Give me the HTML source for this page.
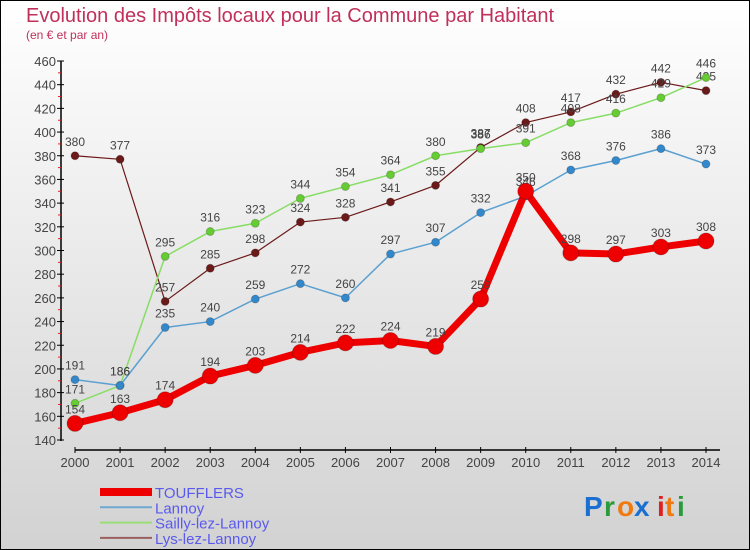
<!DOCTYPE html>
<html><head><meta charset="utf-8"><style>
body{margin:0;}
#wrap{width:750px;height:550px;position:relative;overflow:hidden;}
svg text{font-family:"Liberation Sans",sans-serif;}
</style></head><body>
<div id="wrap">
<svg id="chart" width="750" height="550" xmlns="http://www.w3.org/2000/svg">
<defs>
<linearGradient id="bg" x1="0" y1="0" x2="0" y2="1"><stop offset="0" stop-color="#ffffff"/><stop offset="1" stop-color="#d2d2d2"/></linearGradient>
</defs>
<rect x="0.5" y="0.5" width="749" height="549" fill="url(#bg)" stroke="#000"/>
<text x="26" y="22" font-size="20" fill="#c0305a">Evolution des Impôts locaux pour la Commune par Habitant</text>
<text x="26" y="39" font-size="12" fill="#c0305a">(en € et par an)</text>
<g id="axes"></g>
<g id="series"></g>
<g id="legend"></g>
<g font-size="28" font-weight="bold">
<text x="584" y="516" fill="#1a6fd0">P</text><text x="604" y="516" fill="#2a9a3a">r</text><text x="617" y="516" fill="#f07a10">o</text><text x="634" y="516" fill="#1a6fd0">x</text><text x="657" y="516" fill="#e02020">i</text><text x="665" y="516" fill="#f07a10">t</text><text x="677" y="516" fill="#2a9a3a">i</text>
</g>
</svg>
</div>
<script>
const years=[2000,2001,2002,2003,2004,2005,2006,2007,2008,2009,2010,2011,2012,2013,2014];
const touffler=[154,163,174,194,203,214,222,224,219,259,350,298,297,303,308];
const lannoy=[191,186,235,240,259,272,260,297,307,332,346,368,376,386,373];
const sailly=[171,186,295,316,323,344,354,364,380,386,391,408,416,429,446];
const lys=[380,377,257,285,298,324,328,341,355,387,408,417,432,442,435];
const yTicks=[140,160,180,200,220,240,260,280,300,320,340,360,380,400,420,440,460];
const seriesNames=["TOUFFLERS","Lannoy","Sailly-lez-Lannoy","Lys-lez-Lannoy"];
const NS="http://www.w3.org/2000/svg";
function X(i){return 75+i*(706-75)/(years.length-1);}
function Y(v){return 440-(v-140)*(440-61)/320;}
function mk(tag,attrs,parent){const e=document.createElementNS(NS,tag);for(const k in attrs)e.setAttribute(k,attrs[k]);parent.appendChild(e);return e;}
const axes=document.getElementById('axes');
let a=mk('line',{x1:61,y1:61,x2:61,y2:441,stroke:'#000','stroke-width':1.5},axes);


yTicks.forEach((t,i)=>{
 let l=mk('line',{x1:57,y1:Y(t),x2:64,y2:Y(t),stroke:'#000'},axes);
 
 
 let tx=mk('text',{x:56,y:Y(t)+5,'text-anchor':'end','font-size':13,fill:'#444'},axes);
 tx.textContent=t;
 
 
 if(i<yTicks.length-1){
  let m=mk('line',{x1:58,y1:Y(t+10),x2:61,y2:Y(t+10),stroke:'#e02020'},axes);
  
  
 }
});
a=mk('line',{x1:75,y1:450,x2:720,y2:450,stroke:'#000','stroke-width':1.5},axes);


years.forEach((y,i)=>{
 let l=mk('line',{x1:X(i),y1:447,x2:X(i),y2:453,stroke:'#000'},axes);
 
 
 let tx=mk('text',{x:X(i),y:467,'text-anchor':'middle','font-size':13,fill:'#444'},axes);
 tx.textContent=y;
 
 
});
const sg=document.getElementById('series');
const specs=[
 {d:lys,c:'#6b1a1a',w:1.2,r:4,n:'lys-lez-lannoy'},
 {d:sailly,c:'#88dd66',w:1.5,r:4,n:'sailly-lez-lannoy',fc:'#66cc33'},
 {d:lannoy,c:'#5aa0d0',w:1.5,r:4,n:'lannoy',fc:'#3388cc'},
 {d:touffler,c:'#ee0000',w:7,r:8,n:'toufflers'}
];
specs.forEach(s=>{
 let p=mk('polyline',{points:s.d.map((v,i)=>X(i)+','+Y(v)).join(' '),fill:'none',stroke:s.c,'stroke-width':s.w,'stroke-linejoin':'round'},sg);
 
 
 s.d.forEach((v,i)=>{
  let c=mk('circle',{cx:X(i),cy:Y(v),r:s.r,fill:s.fc||s.c,stroke:'#0003'},sg);
  
  
  let t=mk('text',{x:X(i),y:Y(v)-10,'text-anchor':'middle','font-size':12,fill:'#444'},sg);
  t.textContent=v;
  
  
 });
});
const lg=document.getElementById('legend');
const lc=['#ee0000','#6fa8d0','#99dd77','#9a6060'],lw=[8,2,2,2];
seriesNames.forEach((n,i)=>{
 const y=492+i*15.3;
 let l=mk('line',{x1:100,y1:y,x2:152,y2:y,stroke:lc[i],'stroke-width':lw[i]},lg);
 
 
 let t=mk('text',{x:155,y:y+6,'font-size':15,fill:'#5a5aee'},lg);
 t.textContent=n;
 
 
});
</script>
</body></html>
